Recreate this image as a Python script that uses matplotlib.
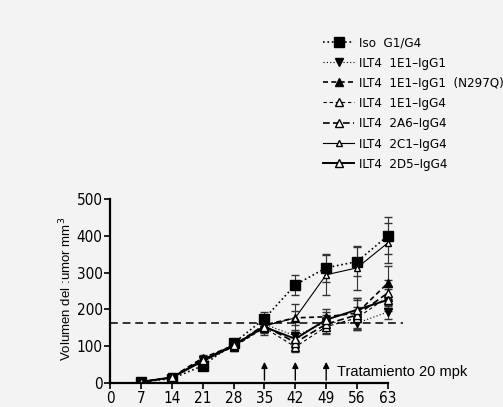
import matplotlib.pyplot as plt
from matplotlib import font_manager

# days of measurement
days = [7, 14, 21, 28, 35, 42, 49, 56, 63]

iso_g1g4 = [3, 12, 47, 108, 175, 267, 313, 330, 400]
iso_err = [2, 4, 8, 12, 18, 27, 38, 40, 50]
e1_igg1 = [3, 15, 62, 100, 160, 128, 165, 163, 193]
e1_igg1_err = [2, 4, 8, 10, 14, 15, 15, 18, 20]
e1_n297q = [3, 16, 68, 102, 158, 177, 180, 190, 272]
e1_n297q_err = [2, 4, 8, 10, 14, 38, 20, 40, 45]
e1_igg4 = [3, 14, 60, 98, 150, 98, 153, 177, 234]
e1_igg4_err = [2, 4, 8, 10, 20, 14, 20, 30, 30]
a6_igg4 = [3, 15, 64, 100, 155, 110, 160, 185, 245]
a6_igg4_err = [2, 4, 8, 10, 16, 15, 25, 40, 35]
c1_igg4 = [3, 14, 58, 100, 155, 177, 294, 313, 381]
c1_igg4_err = [2, 4, 8, 10, 15, 20, 55, 60, 55]
d5_igg4 = [3, 15, 62, 103, 152, 120, 172, 199, 226]
d5_igg4_err = [2, 4, 8, 10, 15, 18, 20, 33, 30]

threshold = 163
treat_days = [35, 42, 49]

series = [
    ("Iso  G1/G4", iso_g1g4, iso_err, ":", "s", "k", 1.2),
    ("ILT4  1E1\u2013IgG1", e1_igg1, e1_igg1_err, (0, (1, 2)), "v", "k", 0.8),
    ("ILT4  1E1\u2013IgG1  (N297Q)", e1_n297q, e1_n297q_err, (0, (3, 2)), "^", "k", 1.2),
    ("ILT4  1E1\u2013IgG4", e1_igg4, e1_igg4_err, (0, (3, 2.5)), "^", "w", 0.8),
    ("ILT4  2A6\u2013IgG4", a6_igg4, a6_igg4_err, (0, (4, 2)), "^", "w", 1.2),
    ("ILT4  2C1\u2013IgG4", c1_igg4, c1_igg4_err, "-", "^", "w", 0.8),
    ("ILT4  2D5\u2013IgG4", d5_igg4, d5_igg4_err, "-", "^", "w", 1.4),
]

narrow = font_manager.FontProperties(family="DejaVu Sans", stretch="condensed", size=11)
legend_font = font_manager.FontProperties(family="DejaVu Sans", stretch="condensed", size=9.5)

fig = plt.figure(figsize=(5.03, 4.07), dpi=100, facecolor="#f3f3f3")
ax = fig.add_axes([0.219, 0.059, 0.596, 0.452])
ax.set_facecolor("#f3f3f3")

handles = []
labels = []
for label, vals, err, ls, mk, mfc, lw in series:
    ms = 6.5 if mk == "s" else 6
    if label.startswith("ILT4  2C1"):
        ms = 4.5
    h = ax.errorbar(days, vals, yerr=err, color="k", ls=ls, lw=lw, marker=mk,
                    markersize=ms, markerfacecolor=mfc, markeredgecolor="k",
                    ecolor="#333333", elinewidth=0.8, capsize=3)
    handles.append(h[0])
    labels.append(label)

ax.hlines(threshold, 0, 66.5, colors="#333333", linestyles=(0, (4, 2.5)), lw=1.4)

for d in treat_days:
    ax.annotate("", xy=(d, 65), xytext=(d, 0),
                arrowprops=dict(arrowstyle="-|>", color="k", lw=1, mutation_scale=9))
ax.text(51.5, 30, "Tratamiento 20 mpk", fontsize=10.5, family=["Liberation Sans", "DejaVu Sans"],
        va="center", ha="left")

ax.set_xlim(0, 68)
ax.set_ylim(0, 500)
ax.set_xticks(list(range(0, 64, 7)))
ax.set_yticks(list(range(0, 501, 100)))
ax.spines["top"].set_visible(False)
ax.spines["right"].set_visible(False)
ax.spines["bottom"].set_bounds(0, 63)
ax.spines["bottom"].set_linewidth(1.6)
ax.spines["left"].set_linewidth(1.6)
ax.tick_params(direction="out", length=4, width=1.2, pad=1.5)
for t in ax.get_xticklabels() + ax.get_yticklabels():
    t.set_fontproperties(narrow)

fig.text(0.131, 0.29, "Volumen del :umor mm$^3$", rotation=90, ha="center", va="center",
         fontsize=9.5, family=["Liberation Sans", "DejaVu Sans"])

fig.legend(handles, labels, loc="upper left", bbox_to_anchor=(0.618, 0.94),
           frameon=False, handlelength=2.4, handletextpad=0.35, labelspacing=0.55,
           numpoints=1, prop=legend_font)

fig.savefig("out.png", dpi=100, facecolor=fig.get_facecolor())
